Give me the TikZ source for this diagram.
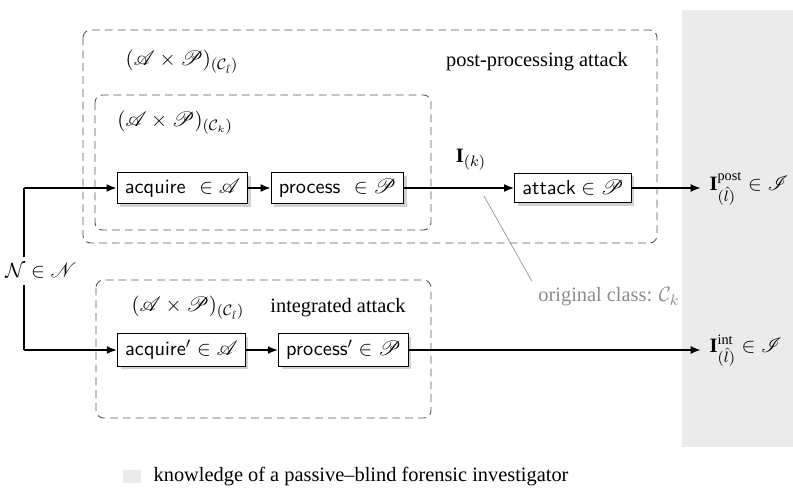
\documentclass[tikz,border=0pt]{standalone}
\usepackage{amsmath,amssymb,mathrsfs}
\usepackage{fontspec}
\setmainfont{Liberation Serif}
\usetikzlibrary{shadows, arrows.meta}

\begin{document}
\begin{tikzpicture}[>={Latex[length=5.5pt,width=4.2pt]}, x=0.53pt, y=-0.53pt, font=\fontsize{10.8}{13}\selectfont,
  op/.style={draw, fill=white, font=\fontsize{10.8}{13}\selectfont\sffamily, inner xsep=4pt, minimum height=15.5pt,
    drop shadow={shadow xshift=1.6pt, shadow yshift=-1.6pt, fill=black!18, opacity=1}},
  flow/.style={->, line width=1.2pt},
  group/.style={draw=black!65, dash pattern=on 4.2pt off 2.6pt, rounded corners=4pt, line width=0.5pt}]

\useasboundingbox (0,0) rectangle (793,493);

% knowledge of the investigator
\fill[black!8] (682,10) rectangle (793,447);

\draw[group] (83,30) rectangle (657,243);
\draw[group] (95,95) rectangle (431,230);
\draw[group] (96,280) rectangle (431,418);

\node (grpa) at (182,62) {$(\mathscr{A}\times\mathscr{P})_{(\mathcal{C}_{\hat{l}})}$};
\node (post) at (537,62) {post-processing attack};
\node (grpb) at (175,123) {$(\mathscr{A}\times\mathscr{P})_{(\mathcal{C}_{k})}$};
\node (grpc) at (188,308) {$(\mathscr{A}\times\mathscr{P})_{(\mathcal{C}_{\hat{l}})}$};
\node (integ) at (338,308) {integrated attack};

\node[op] (acq) at (182.5,188) {acquire\ \ $\in\mathscr{A}$};
\node[op] (proc) at (337.5,188) {process\ \ $\in\mathscr{P}$};
\node[op] (att) at (573,188) {attack$\;\in\mathscr{P}$};
\node[op] (acqb) at (181.5,350) {acquire$'\in\mathscr{A}$};
\node[op] (procb) at (343.5,350) {process$'\in\mathscr{P}$};

\node[anchor=west] (ipost) at (703,189) {$\mathbf{I}^{\mathrm{post}}_{(\hat{l})}\in\mathscr{I}$};
\node[anchor=west] (iint) at (703,351) {$\mathbf{I}^{\mathrm{int}}_{(\hat{l})}\in\mathscr{I}$};
\node (ik) at (471,160) {$\mathbf{I}_{(k)}$};
\node (noise) at (41,271) {$\mathcal{N}\in\mathscr{N}$};
\node[black!45] (orig) at (609,297) {original class: $\mathcal{C}_k$};

\coordinate (top) at (24,188);
\coordinate (bot) at (24,350);
\coordinate (tag) at (484,196);

\draw[line width=1.2pt] (noise.north -| top) -- (top);
\draw[flow] (top) -- (acq);
\draw[line width=1.2pt] (noise.south -| bot) -- (bot);
\draw[flow] (bot) -- (acqb);

\draw[flow] (acq) -- (proc);
\draw[flow] (proc) -- (att);
\draw[flow, shorten >=1pt] (att) -- (att -| ipost.west);
\draw[flow] (acqb) -- (procb);
\draw[flow, shorten >=1pt] (procb) -- (procb -| iint.west);

\draw[black!40, line width=0.4pt] (tag) -- (orig.north west);

% legend
\fill[black!8] (123,470) rectangle (141,483);
\node[anchor=west] (legend) at (147,476.5) {knowledge of a passive--blind forensic investigator};

\end{tikzpicture}
\end{document}
